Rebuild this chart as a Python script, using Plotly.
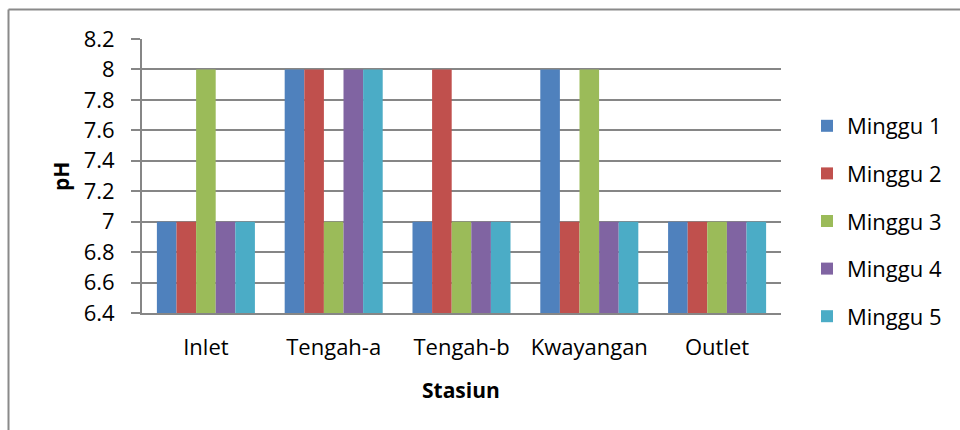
import plotly.graph_objects as go

# pH per station, weekly measurements
stations = ["Inlet", "Tengah-a", "Tengah-b", "Kwayangan", "Outlet"]
weeks = ["Minggu 1", "Minggu 2", "Minggu 3", "Minggu 4", "Minggu 5"]
minggu_1 = [7, 8, 7, 8, 7]
minggu_2 = [7, 8, 8, 7, 7]
minggu_3 = [8, 7, 7, 8, 7]
minggu_4 = [7, 8, 7, 7, 7]
minggu_5 = [7, 8, 7, 7, 7]
y_ticks = [6.4, 6.6, 6.8, 7, 7.2, 7.4, 7.6, 7.8, 8, 8.2]

series = [minggu_1, minggu_2, minggu_3, minggu_4, minggu_5]
colors = ["#4F81BD", "#C0504D", "#9BBB59", "#8064A2", "#4BACC6"]

W, H = 960, 430
L, R, T, B = 142, 781, 39, 313  # plot area in pixels

def px(x):
    return (x - L) / (R - L)

def py(y):
    return (B - y) / (B - T)

fig = go.Figure()
for i, (name, vals) in enumerate(zip(weeks, series)):
    fig.add_trace(go.Bar(
        x=stations, y=vals, name=name,
        marker=dict(color=colors[i], line=dict(width=0)),
        legendgroup=name,
    ))

font = "Open Sans, DejaVu Sans, sans-serif"
grid = "#868686"

fig.update_layout(
    width=W, height=H,
    margin=dict(l=L, r=W - R, t=T, b=H - B, autoexpand=False),
    paper_bgcolor="white", plot_bgcolor="white",
    barmode="group", bargap=0.233, bargroupgap=0,
    font=dict(family=font, size=22, color="black"),
    showlegend=True,
    legend=dict(
        x=px(807), y=py(105), xanchor="left", yanchor="top",
        font=dict(size=22), traceorder="grouped", tracegroupgap=16,
        itemwidth=30, bgcolor="rgba(0,0,0,0)",
    ),
    xaxis=dict(
        showgrid=False, showline=True, linecolor=grid, linewidth=2,
        ticks="", ticklabelstandoff=14, tickfont=dict(size=22),
        mirror=False,
    ),
    yaxis=dict(
        range=[6.4, 8.2], tickvals=y_ticks,
        ticktext=[f"{v:g}" for v in y_ticks],
        showgrid=True, gridcolor=grid, gridwidth=2,
        showline=True, linecolor=grid, linewidth=2,
        ticks="outside", ticklen=9, tickcolor=grid, tickwidth=2,
        ticklabelstandoff=12, tickfont=dict(size=22),
        zeroline=False,
    ),
    annotations=[
        dict(text="<b>pH</b>", x=px(61), y=py(177), xref="paper", yref="paper",
             xanchor="center", yanchor="middle",
             showarrow=False, textangle=-90, font=dict(size=21)),
        dict(text="<b>Stasiun</b>", x=px(461), y=py(390), xref="paper", yref="paper",
             xanchor="center", yanchor="middle",
             showarrow=False, font=dict(size=21)),
    ],
    shapes=[
        dict(type="line", xref="paper", yref="paper", x0=px(8.5), x1=px(960),
             y0=py(9.5), y1=py(9.5), line=dict(color="#8a8a8a", width=2)),
        dict(type="line", xref="paper", yref="paper", x0=px(8.5), x1=px(8.5),
             y0=py(9.5), y1=py(430), line=dict(color="#8a8a8a", width=2)),
    ],
)

fig.write_html("out.html")
